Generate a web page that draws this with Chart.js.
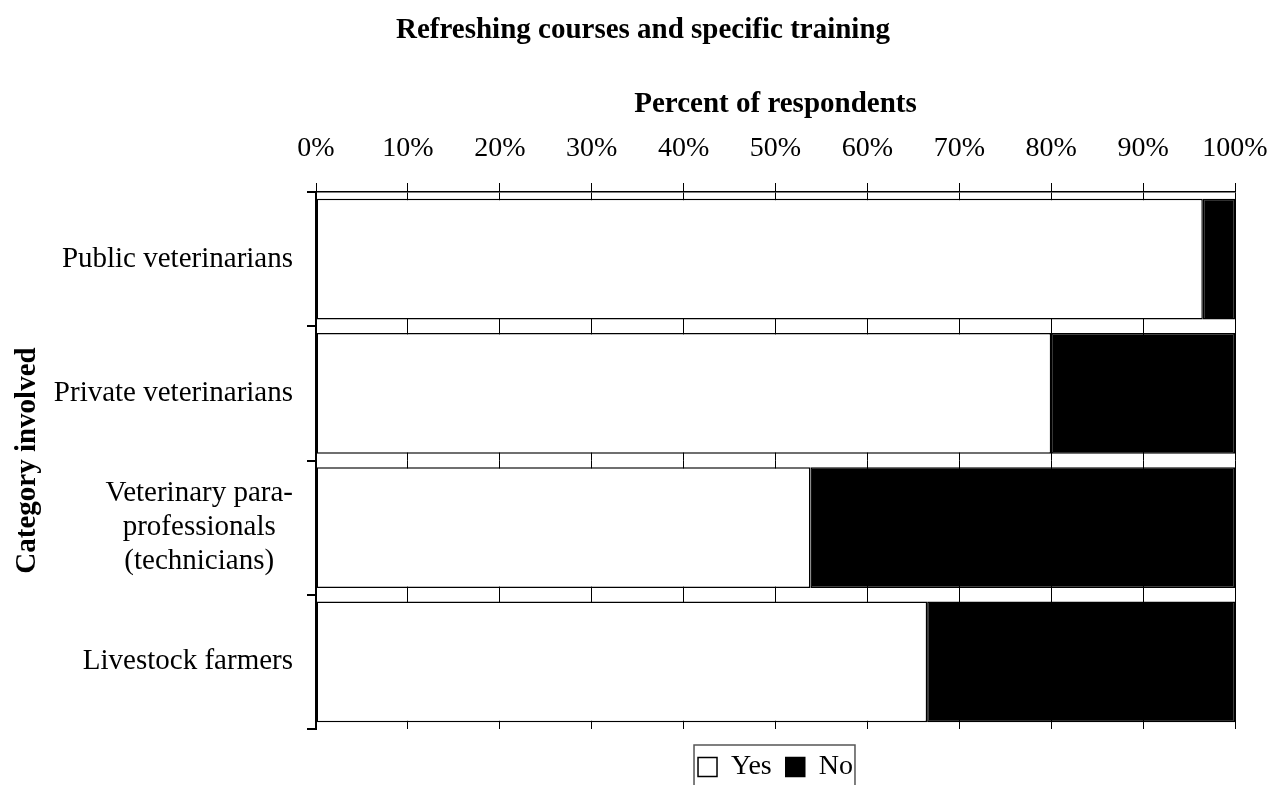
<!DOCTYPE html>
<html>
<head>
<meta charset="utf-8">
<title>Refreshing courses and specific training</title>
<script src="https://cdn.jsdelivr.net/npm/chart.js@4/dist/chart.umd.min.js"></script>
<style>
  html, body { margin: 0; padding: 0; background: #fff; }
</style>
</head>
<body>
<canvas id="chart" width="1286" height="785"></canvas>
<script>
// categories (multi-line label kept as an array of lines)
const categories = [
    'Public veterinarians',
    'Private veterinarians',
    ['Veterinary para-', 'professionals', '(technicians)'],
    'Livestock farmers'
];
// percent of respondents per category
const yesValues = [96.5, 80, 53.8, 66.5];
const noValues = [3.5, 20, 46.2, 33.5];
const seriesNames = ['Yes', 'No'];

const serif = "'Liberation Serif', 'Times New Roman', serif";

/**
 * Title centred on the whole canvas, legend centred under the plot
 */
const placeBlocks = {
    id: 'placeBlocks',
    afterLayout(chart) {
        const area = chart.chartArea;
        chart.titleBlock.left = 0;
        chart.titleBlock.right = chart.width;
        chart.titleBlock.width = chart.width;
        chart.legend.left = area.left;
        chart.legend.right = area.right;
        chart.legend.width = area.right - area.left;
    }
};

/**
 * Draws the category labels: each block right-aligned to the axis,
 * lines centred inside the block
 */
const categoryLabels = {
    id: 'categoryLabels',
    afterDraw(chart) {
        const { ctx } = chart;
        const yScale = chart.scales.y;
        const right = yScale.right - 9 - 14;
        ctx.save();
        ctx.font = '29px ' + serif;
        ctx.fillStyle = '#000';
        ctx.textAlign = 'center';
        ctx.textBaseline = 'middle';
        categories.forEach((label, i) => {
            const lines = Array.isArray(label) ? label : [label];
            const blockWidth = Math.max(...lines.map(l => ctx.measureText(l).width));
            const cy = yScale.getPixelForTick(i);
            lines.forEach((line, j) => {
                ctx.fillText(line, right - blockWidth / 2, cy + (j - (lines.length - 1) / 2) * 34);
            });
        });
        ctx.restore();
    }
};

/**
 * Frame around the legend items
 */
const legendFrame = {
    id: 'legendFrame',
    afterDraw(chart) {
        const boxes = chart.legend.legendHitBoxes;
        if (!boxes || !boxes.length) return;
        const first = boxes[0];
        const last = boxes[boxes.length - 1];
        const { ctx } = chart;
        ctx.save();
        ctx.strokeStyle = '#555';
        ctx.lineWidth = 1.5;
        ctx.strokeRect(first.left - 4, first.top - 8, last.left + last.width - first.left + 6, 60);
        ctx.restore();
    }
};

new Chart(document.getElementById('chart'), {
    type: 'bar',
    data: {
        labels: categories,
        datasets: [
            {
                label: seriesNames[0],
                data: yesValues,
                backgroundColor: '#fff',
                borderColor: '#000',
                borderWidth: 1.5,
                borderSkipped: false,
                barPercentage: 0.9,
                categoryPercentage: 1
            },
            {
                label: seriesNames[1],
                data: noValues,
                backgroundColor: '#000',
                borderColor: '#000',
                borderWidth: 1.5,
                borderSkipped: false,
                barPercentage: 0.9,
                categoryPercentage: 1
            }
        ]
    },
    options: {
        indexAxis: 'y',
        responsive: false,
        animation: false,
        layout: { padding: { left: 0, right: 51, top: 0, bottom: -6 } },
        plugins: {
            title: {
                display: true,
                text: 'Refreshing courses and specific training',
                color: '#000',
                font: { family: serif, size: 29, weight: 'bold' },
                padding: { top: 13, bottom: 0 }
            },
            legend: {
                position: 'bottom',
                title: { display: true, text: '', font: { size: 5 }, padding: { top: 4, bottom: 0 } },
                labels: {
                    color: '#000',
                    font: { family: serif, size: 28 },
                    boxWidth: 19,
                    boxHeight: 19,
                    padding: 14
                }
            },
            tooltip: { enabled: false }
        },
        scales: {
            x: {
                position: 'top',
                stacked: true,
                min: 0,
                max: 100,
                ticks: {
                    stepSize: 10,
                    callback: v => v + '%',
                    color: '#000',
                    font: { family: serif, size: 28 },
                    padding: 18,
                    maxRotation: 0,
                    autoSkip: false
                },
                grid: { color: '#000', lineWidth: 1, tickLength: 9, tickColor: '#000' },
                border: { display: true, color: '#000', width: 1.5 },
                title: {
                    display: true,
                    text: 'Percent of respondents',
                    color: '#000',
                    font: { family: serif, size: 29, weight: 'bold' },
                    padding: { top: 39, bottom: 0 }
                },
                afterFit: s => { s.height = 144.2; }
            },
            y: {
                stacked: true,
                ticks: { display: false },
                grid: {
                    offset: true,
                    drawOnChartArea: true,
                    color: c => c.index === categories.length ? '#555' : 'rgba(0,0,0,0)',
                    lineWidth: 2,
                    tickColor: '#000',
                    tickLength: 9
                },
                border: { display: true, color: '#000', width: 2 },
                title: {
                    display: true,
                    text: 'Category involved',
                    color: '#000',
                    font: { family: serif, size: 29, weight: 'bold' },
                    padding: { top: 10, bottom: 0 }
                },
                afterFit: s => { s.width = 316; }
            }
        }
    },
    plugins: [placeBlocks, categoryLabels, legendFrame]
});
</script>
</body>
</html>
